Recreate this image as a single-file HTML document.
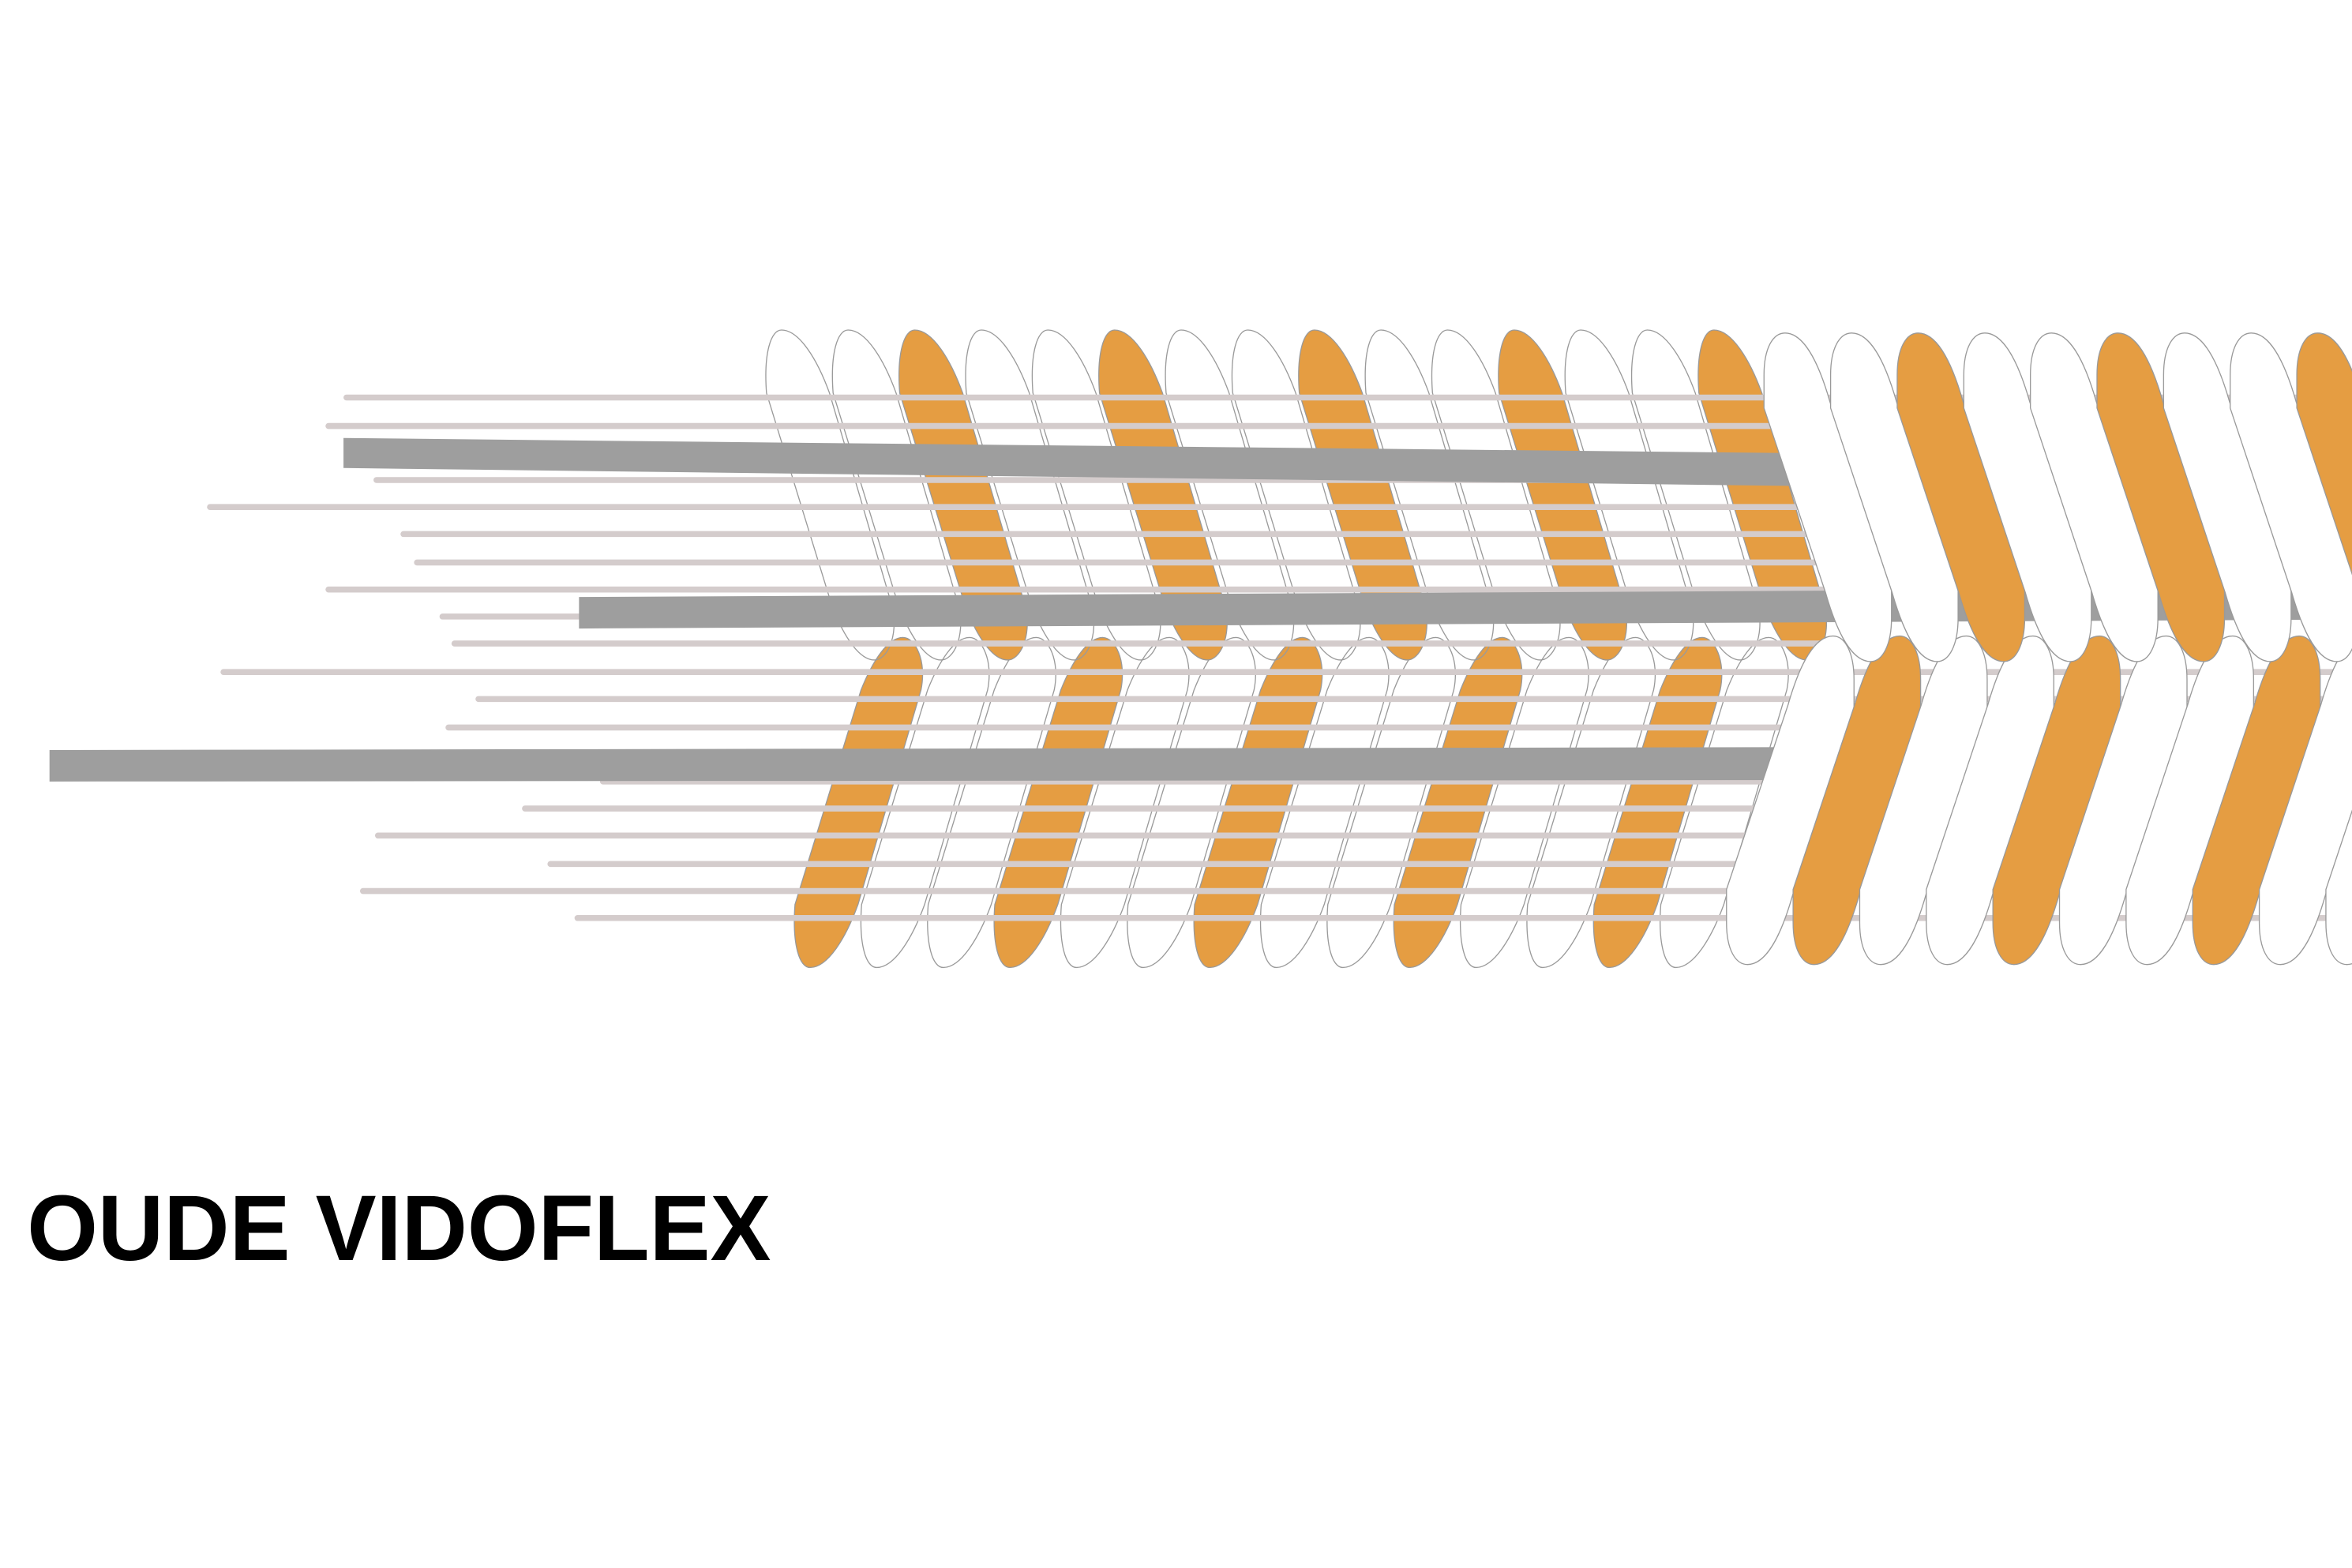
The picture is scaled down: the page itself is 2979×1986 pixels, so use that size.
<!DOCTYPE html>
<html><head><meta charset="utf-8"><style>
html,body{margin:0;padding:0;background:#fff;}
svg{display:block;}
</style></head><body>
<svg width="2979" height="1986" viewBox="0 0 1568 1045.3" xmlns="http://www.w3.org/2000/svg">
<defs>
<path id="lb" d="M0,262 C-2,235 3,220 10,220 C22,220 34,240 42,262 L84,405 C88,425 80,440 72,440 C62,440 52,425 44,405 Z"/>
<path id="rb" d="M0,272 L0,250 C0,232 6,222 14,222 C26,222 36,240 44,268 L85,392 L85,412 C85,430 79,441 71,441 C59,441 49,423 41,395 Z"/>
</defs>
<g stroke="#9a9a9a" stroke-width="0.7">
<!-- left lower row -->
<g transform="translate(0,865) scale(1,-1)">
<use href="#lb" x="530" fill="#e59d42"/><use href="#lb" x="574.4" fill="none"/><use href="#lb" x="618.8" fill="none"/>
<use href="#lb" x="663.2" fill="#e59d42"/><use href="#lb" x="707.6" fill="none"/><use href="#lb" x="752" fill="none"/>
<use href="#lb" x="796.4" fill="#e59d42"/><use href="#lb" x="840.8" fill="none"/><use href="#lb" x="885.2" fill="none"/>
<use href="#lb" x="929.6" fill="#e59d42"/><use href="#lb" x="974" fill="none"/><use href="#lb" x="1018.4" fill="none"/>
<use href="#lb" x="1062.8" fill="#e59d42"/><use href="#lb" x="1107.2" fill="none"/>
</g>
<!-- left upper row -->
<use href="#lb" x="511" fill="none"/><use href="#lb" x="555.4" fill="none"/><use href="#lb" x="599.8" fill="#e59d42"/>
<use href="#lb" x="644.2" fill="none"/><use href="#lb" x="688.6" fill="none"/><use href="#lb" x="733" fill="#e59d42"/>
<use href="#lb" x="777.4" fill="none"/><use href="#lb" x="821.8" fill="none"/><use href="#lb" x="866.2" fill="#e59d42"/>
<use href="#lb" x="910.6" fill="none"/><use href="#lb" x="955" fill="none"/><use href="#lb" x="999.4" fill="#e59d42"/>
<use href="#lb" x="1043.8" fill="none"/><use href="#lb" x="1088.2" fill="none"/><use href="#lb" x="1132.6" fill="#e59d42"/>
</g>
<!-- light lines -->
<g stroke="#d4cccc" stroke-width="4" stroke-linecap="round">
<line x1="231" y1="265" x2="1568" y2="265"/>
<line x1="219" y1="284" x2="1568" y2="284"/>
<line x1="251" y1="320" x2="1568" y2="320"/>
<line x1="140" y1="338" x2="1568" y2="338"/>
<line x1="269" y1="356" x2="1568" y2="356"/>
<line x1="278" y1="375" x2="1568" y2="375"/>
<line x1="219" y1="393" x2="1568" y2="393"/>
<line x1="295" y1="411" x2="1568" y2="411"/>
<line x1="303" y1="429" x2="1568" y2="429"/>
<line x1="149" y1="448" x2="1568" y2="448"/>
<line x1="319" y1="466" x2="1568" y2="466"/>
<line x1="299" y1="485" x2="1568" y2="485"/>
<line x1="402" y1="521" x2="1568" y2="521"/>
<line x1="350" y1="539" x2="1568" y2="539"/>
<line x1="252" y1="557" x2="1568" y2="557"/>
<line x1="367" y1="576" x2="1568" y2="576"/>
<line x1="242" y1="594" x2="1568" y2="594"/>
<line x1="385" y1="612" x2="1568" y2="612"/>
</g>
<!-- dark bars -->
<g fill="#9e9e9e">
<polygon points="229,292 1250,302.6 1250,324.6 229,312"/>
<polygon points="386,398 1568,392 1568,413 386,419"/>
<polygon points="33,500 1250,498 1250,520 33,521"/>
</g>
<g stroke="#9a9a9a" stroke-width="0.7">
<!-- right lower row -->
<g transform="translate(0,865) scale(1,-1)">
<use href="#rb" x="1151" fill="#fff"/><use href="#rb" x="1195.4" fill="#e59d42"/><use href="#rb" x="1239.8" fill="#fff"/>
<use href="#rb" x="1284.2" fill="#fff"/><use href="#rb" x="1328.6" fill="#e59d42"/><use href="#rb" x="1373" fill="#fff"/>
<use href="#rb" x="1417.4" fill="#fff"/><use href="#rb" x="1461.8" fill="#e59d42"/><use href="#rb" x="1506.2" fill="#fff"/>
<use href="#rb" x="1550.6" fill="#fff"/>
</g>
<!-- right upper row -->
<use href="#rb" x="1176" fill="#fff"/><use href="#rb" x="1220.4" fill="#fff"/><use href="#rb" x="1264.8" fill="#e59d42"/>
<use href="#rb" x="1309.2" fill="#fff"/><use href="#rb" x="1353.6" fill="#fff"/><use href="#rb" x="1398" fill="#e59d42"/>
<use href="#rb" x="1442.4" fill="#fff"/><use href="#rb" x="1486.8" fill="#fff"/><use href="#rb" x="1531.2" fill="#e59d42"/>
</g>
<text x="18" y="840" font-family="'Liberation Sans', sans-serif" font-weight="bold" font-size="62" fill="#000" textLength="496" lengthAdjust="spacingAndGlyphs">OUDE VIDOFLEX</text>
</svg>
</body></html>
